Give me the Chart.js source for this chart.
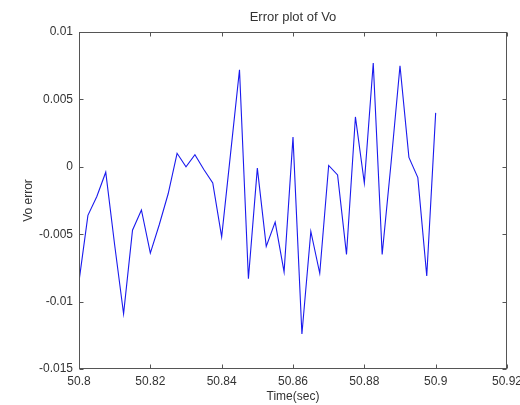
<!doctype html>
<html lang="en">
<head>
    <meta charset="utf-8">
    <title>Error plot of Vo</title>
    <script src="https://cdn.jsdelivr.net/npm/chart.js@4.4.0/dist/chart.umd.min.js"></script>
    <style>
        body { margin: 0; background: #fff; }
        #wrap { width: 520px; height: 405px; }
    </style>
</head>
<body>
    <div id="wrap"><canvas id="errChart" width="520" height="405"></canvas></div>
<script>
    // sample times (sec)
    var times = [50.8, 50.8025, 50.805, 50.8075, 50.81, 50.8125, 50.815, 50.8175, 50.82, 50.8225,
        50.825, 50.8275, 50.83, 50.8325, 50.835, 50.8375, 50.84, 50.8425, 50.845, 50.8475,
        50.85, 50.8525, 50.855, 50.8575, 50.86, 50.8625, 50.865, 50.8675, 50.87, 50.8725,
        50.875, 50.8775, 50.88, 50.8825, 50.885, 50.8875, 50.89, 50.8925, 50.895, 50.8975, 50.9];

    // Vo error
    var voError = [-0.0085, -0.0036, -0.0022, -0.0004, -0.0058, -0.0109, -0.0047, -0.0032, -0.0064, -0.0043,
        -0.0020, 0.0010, 0.0000, 0.0009, -0.0002, -0.0012, -0.0052, 0.0010, 0.0072, -0.0083,
        -0.0001, -0.0059, -0.0041, -0.0078, 0.0022, -0.0124, -0.0048, -0.0079, 0.0001, -0.0006,
        -0.0065, 0.0037, -0.0012, 0.0077, -0.0065, 0.0003, 0.0075, 0.0007, -0.0008, -0.0081, 0.0040];

    var xTicks = [50.8, 50.82, 50.84, 50.86, 50.88, 50.9, 50.92];
    var yTicks = [-0.015, -0.01, -0.005, 0, 0.005, 0.01];

    var fontFam = "'Liberation Sans', Arial, sans-serif";

    // matlab style box with inward tick marks
    var boxPlugin = {
        id: 'matlabBox',
        afterDraw: (chart) => {
            let ctx = chart.ctx;
            let a = chart.chartArea;
            let x = chart.scales.x;
            let y = chart.scales.y;
            let L = Math.round(a.left) + 0.5, R = Math.round(a.right) - 0.5;
            let T = Math.round(a.top) + 0.5, B = Math.round(a.bottom) - 0.5;
            ctx.save();
            ctx.strokeStyle = '#555';
            ctx.lineWidth = 1;
            ctx.strokeRect(L, T, R - L, B - T);
            ctx.beginPath();
            x.ticks.forEach(t => {
                let px = Math.round(x.getPixelForValue(t.value)) + 0.5;
                ctx.moveTo(px, B); ctx.lineTo(px, B - 4);
                ctx.moveTo(px, T); ctx.lineTo(px, T + 4);
            });
            y.ticks.forEach(t => {
                let py = Math.round(y.getPixelForValue(t.value)) + 0.5;
                ctx.moveTo(L, py); ctx.lineTo(L + 4, py);
                ctx.moveTo(R, py); ctx.lineTo(R - 4, py);
            });
            ctx.stroke();
            ctx.restore();
        }
    };

    let showChart = () => {
        let ctx = document.getElementById('errChart');
        let pts = times.map((t, i) => ({ x: t, y: voError[i] }));

        new Chart(ctx, {
            type: 'line',
            data: {
                datasets: [{
                    label: 'Vo error',
                    data: pts,
                    borderColor: '#1a1aee',
                    borderWidth: 1.1,
                    pointRadius: 0,
                    tension: 0,
                    fill: false
                }]
            },
            options: {
                responsive: false,
                animation: false,
                events: [],
                layout: { padding: { left: 0, right: 13, top: 0, bottom: 0 } },
                plugins: {
                    legend: { display: false },
                    tooltip: { enabled: false },
                    title: {
                        display: true,
                        fullSize: false,  // center over the axes, like matlab
                        text: 'Error plot of Vo',
                        color: '#333',
                        font: { family: fontFam, size: 13, weight: 'normal' },
                        padding: { top: 10, bottom: 6.4 }
                    }
                },
                scales: {
                    x: {
                        type: 'linear',
                        min: 50.8,
                        max: 50.92,
                        afterBuildTicks: s => { s.ticks = xTicks.map(v => ({ value: v })); },
                        afterFit: s => { s.height = 36; s.paddingRight = 0; s.paddingLeft = 0; },
                        grid: { display: false, drawTicks: false },
                        border: { display: false },
                        ticks: {
                            padding: 5,
                            maxRotation: 0,
                            color: '#333',
                            font: { family: fontFam, size: 12 },
                            callback: v => String(+v.toFixed(2))
                        },
                        title: {
                            display: true,
                            text: 'Time(sec)',
                            color: '#333',
                            font: { family: fontFam, size: 12 },
                            padding: { top: 0, bottom: 1 }
                        }
                    },
                    y: {
                        type: 'linear',
                        min: -0.015,
                        max: 0.01,
                        afterBuildTicks: s => { s.ticks = yTicks.map(v => ({ value: v })); },
                        afterFit: s => { s.width = 79; },
                        grid: { display: false, drawTicks: false },
                        border: { display: false },
                        ticks: {
                            padding: 6,
                            color: '#333',
                            font: { family: fontFam, size: 12 },
                            callback: v => String(+v.toFixed(3))
                        },
                        title: {
                            display: true,
                            text: 'Vo error',
                            color: '#333',
                            font: { family: fontFam, size: 12 },
                            padding: { top: 21, bottom: 0 }
                        }
                    }
                }
            },
            plugins: [boxPlugin]
        });
    };

    showChart();
</script>
</body>
</html>
